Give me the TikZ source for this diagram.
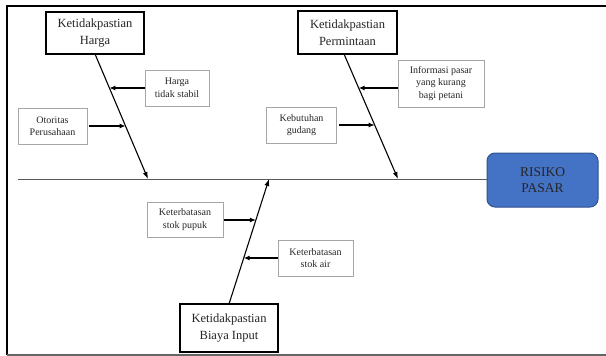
\documentclass[tikz,border=0pt]{standalone}
\usepackage{fontspec}
\setmainfont{Liberation Serif}
\usetikzlibrary{arrows.meta,calc}
\definecolor{riskfill}{HTML}{4472C4}
\definecolor{riskline}{HTML}{2F528F}
\begin{document}
\begin{tikzpicture}[x=1pt,y=-1pt,
  causebox/.style={draw=black, line width=1.4pt, fill=white, align=center,
    inner sep=0pt, font=\fontsize{12.5}{17}\selectfont, text=black!85},
  subbox/.style={draw=black!35, line width=0.9pt, fill=white, align=center,
    inner sep=0pt, font=\fontsize{10}{12.5}\selectfont, text=black!85},
  riskbox/.style={draw=riskline, line width=1pt, fill=riskfill, rounded corners=8pt,
    align=center, inner sep=0pt, font=\fontsize{13.5}{16.5}\selectfont, text=black!85},
  spine/.style={line width=1pt, draw=black!65},
  bone/.style={line width=1.1pt, -{Latex[length=7pt,width=5pt]}},
  feed/.style={line width=1.1pt, -{Latex[length=6pt,width=5pt]}},
  frame/.style={line width=2pt, draw=black}]

\useasboundingbox (0,0) rectangle (606,356);

% page frame
\draw[frame] (7,355) -- (7,6) -- (606,6);
\draw[line width=1.5pt, draw=black!60] (7,355) -- (606,355);

% effect
\node[riskbox, minimum width=111pt, minimum height=54pt] (risk) at (542.5,180) {RISIKO\\PASAR};

% main causes
\node[causebox, minimum width=98pt, minimum height=42pt] (harga) at (95,33) {Ketidakpastian\\Harga};
\node[causebox, minimum width=99pt, minimum height=43pt] (minta) at (347.5,32.5) {Ketidakpastian\\Permintaan};
\node[causebox, minimum width=98pt, minimum height=48pt] (biaya) at (229,328) {Ketidakpastian\\Biaya Input};

% sub causes
\node[subbox, minimum width=64pt, minimum height=36pt] (hts) at (177,88) {Harga\\tidak stabil};
\node[subbox, minimum width=69pt, minimum height=36pt] (oto) at (52.5,126) {Otoritas\\Perusahaan};
\node[subbox, minimum width=86pt, minimum height=47pt] (info) at (441,83.5) {Informasi pasar\\yang kurang\\bagi petani};
\node[subbox, minimum width=70pt, minimum height=36pt] (keb) at (301.5,125) {Kebutuhan\\gudang};
\node[subbox, minimum width=76pt, minimum height=35pt] (pupuk) at (185,219.5) {Keterbatasan\\stok pupuk};
\node[subbox, minimum width=75pt, minimum height=36pt] (air) at (315.5,258) {Keterbatasan\\stok air};

% spine
\coordinate (s0) at (18,179);
\draw[spine] (s0) -- (s0 -| risk.west);

% bones
\coordinate (hA) at (95,54);
\coordinate (hB) at (148,179);
\coordinate (pA) at (344,54);
\coordinate (pB) at (398,179);
\coordinate (bA) at (229,304);
\coordinate (bB) at (269,179);
\draw[bone] (hA) -- (hB);
\draw[bone] (pA) -- (pB);
\draw[bone] (bA) -- (bB);

% points where sub causes meet the bones
\coordinate (t1) at ($(hA)!0.272!(hB)$);
\coordinate (t2) at ($(hA)!0.576!(hB)$);
\coordinate (t3) at ($(pA)!0.272!(pB)$);
\coordinate (t4) at ($(pA)!0.568!(pB)$);
\coordinate (t5) at ($(bA)!0.672!(bB)$);
\coordinate (t6) at ($(bA)!0.368!(bB)$);

\draw[feed] (t1 -| hts.west) -- (t1);
\draw[feed] ([xshift=2pt]t2 -| oto.east) -- (t2);
\draw[feed] (t3 -| info.west) -- (t3);
\draw[feed] ([xshift=2pt]t4 -| keb.east) -- (t4);
\draw[feed] ([xshift=1pt]t5 -| pupuk.east) -- (t5);
\draw[feed] (t6 -| air.west) -- (t6);
\end{tikzpicture}
\end{document}
